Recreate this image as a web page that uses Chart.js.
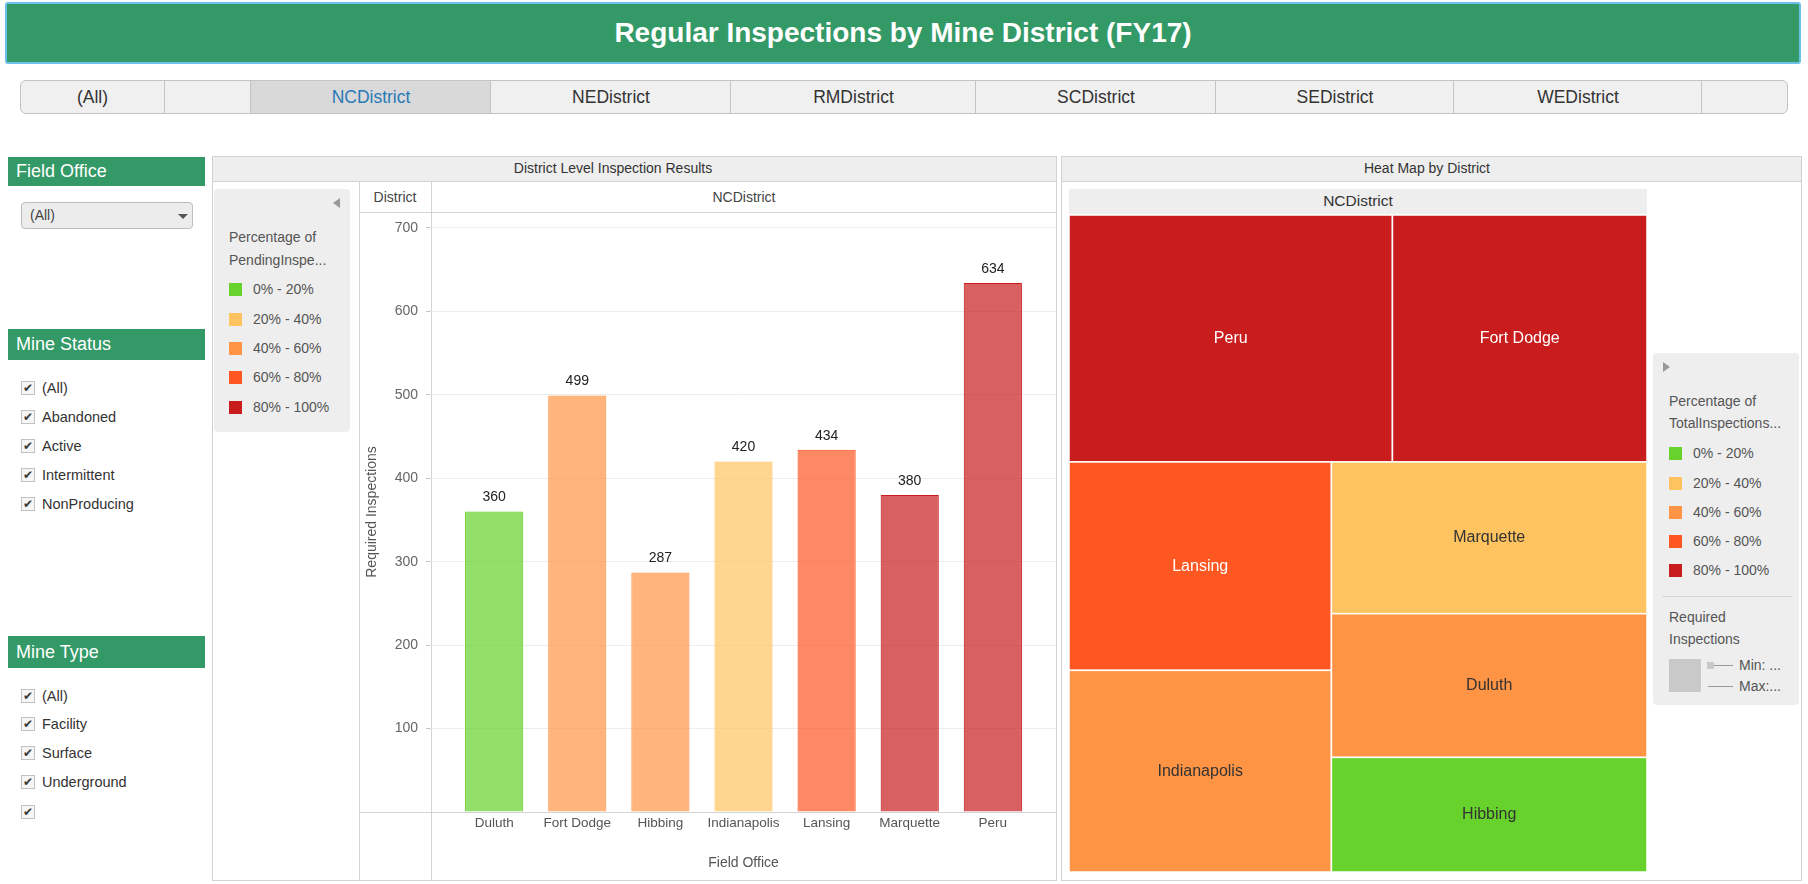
<!DOCTYPE html>
<html>
<head>
<meta charset="utf-8">
<script src="https://cdn.jsdelivr.net/npm/chart.js@4.4.1/dist/chart.umd.min.js"></script>
<style>
body { margin:0; width:1808px; height:884px; overflow:hidden; background:#fff; position:relative;
       font-family:"Liberation Sans", Arial, sans-serif; color:#333; }
.abs { position:absolute; }
.txt { position:absolute; height:20px; line-height:20px; white-space:nowrap; }
#header { left:5px; top:2px; width:1792px; height:58px; background:#339966; border:2px solid #6cc0ea; border-radius:3px;
          color:#fff; font-weight:bold; font-size:28px; text-align:center; line-height:58px; }
#tabs { left:20px; top:80px; width:1766px; height:32px; background:#f0f0f0; border:1px solid #c4c4c4; border-radius:6px; overflow:hidden; }
.tab { position:absolute; top:0; height:32px; line-height:32px; text-align:center; font-size:17.5px; color:#333; border-left:1px solid #c4c4c4; }
.tab.sel { background:#d9d9d9; color:#2a7ab8; }
.green { position:absolute; left:8px; width:197px; background:#339966; color:#fff; font-size:18px; padding-left:8px; box-sizing:border-box; }
.cb { position:absolute; width:12px; height:12px; border:1px solid #c2c2c2; background:#f6f6f6; font-family:"DejaVu Sans"; font-size:12px; line-height:12px; text-align:center; color:#3a3a3a; }
.cbl { position:absolute; font-size:14.5px; color:#333; height:20px; line-height:20px; }
.panel { position:absolute; border:1px solid #d2d2d2; box-sizing:border-box; background:#fff; }
.ptitle { position:absolute; left:0; top:0; right:0; height:24px; background:#eeeeee; border-bottom:1px solid #d2d2d2; }
.line { position:absolute; background:#d4d4d4; }
.leg { position:absolute; background:#eeeeee; border-radius:4px; }
.sw { position:absolute; width:13px; height:13px; }
.lt { position:absolute; font-size:14px; color:#555; height:20px; line-height:20px; white-space:nowrap; }
</style>
</head>
<body>
<div id="header" class="abs">Regular Inspections by Mine District (FY17)</div>
<div id="tabs" class="abs"></div>

<!-- filters -->
<div class="green" style="top:157px;height:29px;line-height:29px;">Field Office</div>
<div class="abs" style="left:21px;top:202px;width:170px;height:25px;background:#ececec;border:1px solid #bdbdbd;border-radius:4px;"></div>
<div class="txt" style="left:30px;top:205px;font-size:14px;color:#444;">(All)</div>
<div class="abs" style="left:178px;top:214px;width:0;height:0;border-left:5px solid transparent;border-right:5px solid transparent;border-top:5px solid #555;"></div>
<div class="green" style="top:329px;height:31px;line-height:31px;">Mine Status</div>
<div class="green" style="top:636px;height:32px;line-height:32px;">Mine Type</div>
<div id="filters"></div>

<!-- bar chart panel -->
<div class="panel" style="left:212px;top:156px;width:845px;height:725px;">
  <div class="ptitle"></div>
</div>
<div class="txt" style="left:413px;top:158px;width:400px;text-align:center;font-size:14px;color:#333;">District Level Inspection Results</div>
<div class="leg" style="left:214px;top:189px;width:136px;height:243px;"></div>
<div class="abs" style="left:333px;top:198px;width:0;height:0;border-top:5px solid transparent;border-bottom:5px solid transparent;border-right:7px solid #999;"></div>
<div class="lt" style="left:229px;top:227px;">Percentage of</div>
<div class="lt" style="left:229px;top:250px;">PendingInspe...</div>
<div id="barLegend"></div>
<div class="line" style="left:359px;top:181px;width:1px;height:699px;"></div>
<div class="line" style="left:431px;top:181px;width:1px;height:699px;"></div>
<div class="line" style="left:359px;top:212px;width:697px;height:1px;"></div>
<div class="line" style="left:359px;top:812px;width:697px;height:1px;"></div>
<div class="txt" style="left:359px;top:187px;width:72px;text-align:center;font-size:14px;color:#444;">District</div>
<div class="txt" style="left:432px;top:187px;width:624px;text-align:center;font-size:14px;color:#444;">NCDistrict</div>
<canvas id="barChart" class="abs" style="left:359px;top:212px;" width="697" height="668"></canvas>

<!-- heat map panel -->
<div class="panel" style="left:1061px;top:156px;width:741px;height:725px;">
  <div class="ptitle"></div>
</div>
<div class="txt" style="left:1227px;top:158px;width:400px;text-align:center;font-size:14px;color:#333;">Heat Map by District</div>
<div class="abs" style="left:1069px;top:189px;width:578px;height:25px;background:#eeeeee;"></div>
<div class="txt" style="left:1069px;top:191px;width:578px;text-align:center;font-size:15.5px;color:#333;">NCDistrict</div>
<canvas id="heatChart" class="abs" style="left:1069px;top:215px;" width="578" height="657"></canvas>
<div class="leg" style="left:1653px;top:353px;width:146px;height:352px;"></div>
<div class="abs" style="left:1663px;top:362px;width:0;height:0;border-top:5px solid transparent;border-bottom:5px solid transparent;border-left:7px solid #999;"></div>
<div class="lt" style="left:1669px;top:391px;">Percentage of</div>
<div class="lt" style="left:1669px;top:413px;">TotalInspections...</div>
<div id="heatLegend"></div>
<div class="abs" style="left:1662px;top:596px;width:130px;height:1px;background:#d6d6d6;"></div>
<div class="lt" style="left:1669px;top:607px;">Required</div>
<div class="lt" style="left:1669px;top:629px;">Inspections</div>
<div class="abs" style="left:1669px;top:659px;width:32px;height:33px;background:#c9c9c9;"></div>
<div class="abs" style="left:1707px;top:662px;width:7px;height:7px;background:#c9c9c9;"></div>
<div class="abs" style="left:1714px;top:665px;width:19px;height:1px;background:#999;"></div>
<div class="abs" style="left:1708px;top:686px;width:25px;height:1px;background:#999;"></div>
<div class="lt" style="left:1739px;top:655px;">Min: ...</div>
<div class="lt" style="left:1739px;top:676px;">Max:...</div>

<script>
// ---- data ----
const fieldOffices = ["Duluth", "Fort Dodge", "Hibbing", "Indianapolis", "Lansing", "Marquette", "Peru"];
const requiredInspections = [360, 499, 287, 420, 434, 380, 634];
// colour class (index into bins) for "Percentage of PendingInspections" (bars)
const pendingBin = [0, 2, 2, 1, 3, 4, 4];
// colour class for "Percentage of TotalInspections" (heat map)
const totalBin = [2, 4, 0, 2, 3, 1, 4];
const binLabels = ["0% - 20%", "20% - 40%", "40% - 60%", "60% - 80%", "80% - 100%"];
const binColors = ["#66d22b", "#ffc45f", "#ff9444", "#ff5722", "#c91c1c"];
const yTickValues = [0, 100, 200, 300, 400, 500, 600, 700];
// treemap strips, as laid out in the dashboard
const heatStrips = [
    {dir: "row", offices: ["Peru", "Fort Dodge"]},
    {dir: "col", offices: ["Lansing", "Indianapolis"]},
    {dir: "col", offices: ["Marquette", "Duluth", "Hibbing"]},
];
const districts = ["(All)", "", "NCDistrict", "NEDistrict", "RMDistrict", "SCDistrict", "SEDistrict", "WEDistrict", ""];
const selectedDistrict = "NCDistrict";
const mineStatus = ["(All)", "Abandoned", "Active", "Intermittent", "NonProducing"];
const mineType = ["(All)", "Facility", "Surface", "Underground", ""];

Chart.defaults.font.family = '"Liberation Sans", Arial, sans-serif';

// tabs
let tabEdges = [0, 143, 229, 469, 709, 954, 1194, 1432, 1680, 1766];
let tabsEl = document.getElementById("tabs");
districts.forEach((d, i) => {
    let t = document.createElement("div");
    t.className = "tab" + (d === selectedDistrict ? " sel" : "");
    t.style.left = tabEdges[i] + "px";
    t.style.width = (tabEdges[i + 1] - tabEdges[i]) + "px";
    if (i === 0) t.style.borderLeft = "none";
    t.textContent = d;
    tabsEl.appendChild(t);
});

// checkbox filters
function addChecks(items, ys) {
    let f = document.getElementById("filters");
    items.forEach((label, i) => {
        let cb = document.createElement("div");
        cb.className = "cb";
        cb.style.left = "21px";
        cb.style.top = (ys[i] - 7) + "px";
        cb.textContent = "\u2714";
        f.appendChild(cb);
        let l = document.createElement("div");
        l.className = "cbl";
        l.style.left = "42px";
        l.style.top = (ys[i] - 10) + "px";
        l.textContent = label;
        f.appendChild(l);
    });
}
addChecks(mineStatus, [388, 417, 446, 475, 504]);
addChecks(mineType, [696, 724, 753, 782, 812]);

// colour legends
function addLegend(id, left, ys) {
    let el = document.getElementById(id);
    binLabels.forEach((lab, i) => {
        let s = document.createElement("div");
        s.className = "sw";
        s.style.left = left + "px";
        s.style.top = (ys[i] - 6) + "px";
        s.style.background = binColors[i];
        el.appendChild(s);
        let t = document.createElement("div");
        t.className = "lt";
        t.style.left = (left + 24) + "px";
        t.style.top = (ys[i] - 10) + "px";
        t.textContent = lab;
        el.appendChild(t);
    });
}
addLegend("barLegend", 229, [289, 319, 348, 377, 407]);
addLegend("heatLegend", 1669, [453, 483, 512, 541, 570]);

function rgba(hex, a) {
    let n = parseInt(hex.slice(1), 16);
    return "rgba(" + (n >> 16) + "," + ((n >> 8) & 255) + "," + (n & 255) + "," + a + ")";
}

// value labels above the bars
const valueLabels = {
    id: "valueLabels",
    afterDatasetsDraw(chart) {
        let ctx = chart.ctx;
        ctx.save();
        ctx.font = '14px "Liberation Sans", Arial';
        ctx.fillStyle = "#222";
        ctx.textAlign = "center";
        ctx.textBaseline = "middle";
        chart.getDatasetMeta(0).data.forEach((bar, i) => {
            ctx.fillText(requiredInspections[i], bar.x, bar.y - 14);
        });
        ctx.restore();
    }
};

new Chart(document.getElementById("barChart"), {
    type: "bar",
    data: {
        datasets: [{
            data: fieldOffices.map((f, i) => ({x: i, y: requiredInspections[i]})),
            backgroundColor: pendingBin.map(b => rgba(binColors[b], 0.7)),
            borderColor: pendingBin.map(b => binColors[b]),
            borderWidth: 1,
            barPercentage: 0.7,
            categoryPercentage: 1,
        }],
    },
    options: {
        responsive: false,
        animation: false,
        layout: {padding: 0},
        plugins: {legend: {display: false}, tooltip: {enabled: false}},
        scales: {
            x: {
                type: "linear",
                offset: false,
                min: -0.76,
                max: 6.76,
                grid: {display: false, drawTicks: false},
                border: {display: false},
                afterBuildTicks: s => { s.ticks = fieldOffices.map((f, i) => ({value: i})); },
                ticks: {
                    callback: v => fieldOffices[v],
                    color: "#555",
                    font: {size: 13.5},
                    padding: 3,
                    autoSkip: false,
                    maxRotation: 0,
                },
                title: {display: true, text: "Field Office", color: "#555", font: {size: 14}, padding: {top: 4, bottom: 8}},
                afterFit: s => { s.height = 68; s.paddingLeft = 0; s.paddingRight = 0; },
            },
            y: {
                min: 0,
                max: 719,
                afterBuildTicks: s => { s.ticks = yTickValues.map(v => ({value: v})); },
                grid: {
                    color: c => (c.tick && c.tick.value === 0) ? "rgba(0,0,0,0)" : "#ededed",
                    tickColor: c => (c.tick && c.tick.value === 0) ? "rgba(0,0,0,0)" : "#c8c8c8",
                    tickLength: 5,
                },
                border: {display: false},
                ticks: {callback: v => v === 0 ? "" : v, color: "#666", font: {size: 14}, padding: 8},
                title: {display: true, text: "Required Inspections", color: "#555", font: {size: 14}, padding: {top: 5, bottom: 0}},
                afterFit: s => { s.width = 72; s.paddingTop = 0; s.paddingBottom = 0; },
            },
        },
    },
    plugins: [valueLabels],
});

// treemap: strip layout computed from the values, drawn through the chart's scales
function stripLayout() {
    let x0 = 0, y0 = 0, w = 1, h = 1;
    let remaining = requiredInspections.reduce((a, b) => a + b, 0);
    let cells = [];
    heatStrips.forEach(strip => {
        let vals = strip.offices.map(o => requiredInspections[fieldOffices.indexOf(o)]);
        let s = vals.reduce((a, b) => a + b, 0);
        if (strip.dir === "row") {
            let sh = h * s / remaining;
            let cx = x0;
            vals.forEach((v, k) => {
                let cw = w * v / s;
                cells.push({office: strip.offices[k], x0: cx, x1: cx + cw, y0: y0, y1: y0 + sh});
                cx += cw;
            });
            y0 += sh; h -= sh;
        } else {
            let sw = w * s / remaining;
            let cy = y0;
            vals.forEach((v, k) => {
                let ch = h * v / s;
                cells.push({office: strip.offices[k], x0: x0, x1: x0 + sw, y0: cy, y1: cy + ch});
                cy += ch;
            });
            x0 += sw; w -= sw;
        }
        remaining -= s;
    });
    return cells;
}

const treemapCells = {
    id: "treemapCells",
    afterDatasetsDraw(chart) {
        let ctx = chart.ctx;
        let xs = chart.scales.x, ys = chart.scales.y;
        ctx.save();
        stripLayout().forEach(c => {
            let i = fieldOffices.indexOf(c.office);
            let bin = totalBin[i];
            let px0 = xs.getPixelForValue(c.x0), px1 = xs.getPixelForValue(c.x1);
            let py0 = ys.getPixelForValue(c.y0), py1 = ys.getPixelForValue(c.y1);
            ctx.fillStyle = binColors[bin];
            ctx.fillRect(px0, py0, px1 - px0, py1 - py0);
            ctx.strokeStyle = "#ffffff";
            ctx.lineWidth = 1.5;
            ctx.strokeRect(px0, py0, px1 - px0, py1 - py0);
            ctx.fillStyle = bin >= 3 ? "#ffffff" : "#333333";
            ctx.font = '16px "Liberation Sans", Arial';
            ctx.textAlign = "center";
            ctx.textBaseline = "middle";
            ctx.fillText(c.office, (px0 + px1) / 2, (py0 + py1) / 2);
        });
        ctx.restore();
    }
};

new Chart(document.getElementById("heatChart"), {
    type: "scatter",
    data: {datasets: [{data: []}]},
    options: {
        responsive: false,
        animation: false,
        layout: {padding: 0},
        plugins: {legend: {display: false}, tooltip: {enabled: false}},
        scales: {
            x: {type: "linear", min: 0, max: 1, display: false},
            y: {type: "linear", min: 0, max: 1, reverse: true, display: false},
        },
    },
    plugins: [treemapCells],
});
</script>
</body>
</html>
